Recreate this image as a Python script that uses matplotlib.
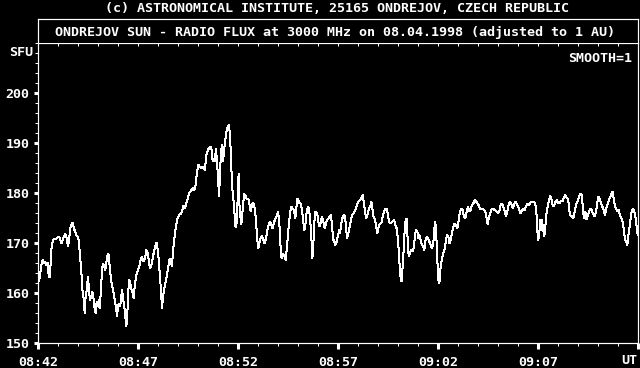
import matplotlib
matplotlib.use("Agg")
import matplotlib.pyplot as plt
from matplotlib.ticker import MultipleLocator, FixedLocator

# seconds after 08:42 UT, flux in SFU
seconds = [
    0, 3, 6, 9, 14, 18, 21, 25, 29, 32, 35, 37, 39, 42, 46, 50, 54, 58, 62, 66,
    70, 74, 78, 82, 86, 90, 93, 97, 101, 104, 107, 111, 115, 119, 122, 125, 128, 131, 134, 138,
    140, 142, 146, 150, 153, 156, 160, 163, 166, 169, 173, 176, 179, 182, 185, 189, 192, 195, 199, 202,
    206, 210, 213, 215, 219, 223, 227, 230, 234, 237, 240, 243, 246, 249, 252, 256, 260, 263, 265, 268,
    271, 274, 277, 280, 284, 287, 290, 294, 298, 302, 305, 308, 312, 316, 321, 325, 329, 333, 336, 340,
    344, 348, 352, 356, 360, 364, 367, 370, 372, 375, 379, 383, 387, 391, 395, 399, 402, 405, 409, 413,
    417, 421, 425, 429, 433, 437, 441, 445, 449, 453, 457, 461, 465, 469, 472, 475, 478, 481, 485, 489,
    493, 497, 500, 503, 506, 510, 514, 518, 521, 524, 527, 530, 534, 537, 540, 543, 546, 549, 552, 555,
    558, 561, 564, 567, 570, 573, 576, 579, 582, 585, 588, 591, 593, 597, 600, 602, 604, 607, 610, 613,
    616, 619, 623, 627, 631, 635, 638, 641, 645, 649, 652, 655, 658, 661, 664, 668, 672, 676, 680, 684,
    688, 692, 696, 700, 704, 708, 712, 716, 720, 723, 726, 728, 731, 735, 739, 743, 746, 749, 752, 756,
    760, 764, 768, 772, 775, 778, 781, 784, 787, 790, 793, 796, 799, 802, 805, 808, 811, 814, 817, 820,
    823, 825, 828, 831, 835, 839, 842, 845, 849, 852, 856, 860, 863, 867, 871, 875, 879, 882, 885, 888,
    892, 896, 900, 904, 906, 909, 913, 917, 921, 924, 927, 930, 934, 938, 942, 946, 950, 954, 958, 962,
    966, 970, 974, 978, 982, 985, 989, 993, 997, 1000, 1003, 1006, 1010, 1014, 1018, 1022, 1026, 1030, 1034, 1038,
    1042, 1046, 1049, 1052, 1056, 1060, 1064, 1068, 1072, 1076, 1079, 1082, 1085, 1088, 1091, 1094, 1097, 1100, 1103, 1106,
    1109, 1112, 1115, 1119, 1123, 1127, 1131, 1134, 1138, 1141, 1144, 1148, 1152, 1156, 1159, 1162, 1166, 1170, 1174, 1178,
    1182, 1186, 1189, 1192, 1195, 1198, 1201, 1204, 1208, 1212, 1216, 1220, 1224, 1227, 1231, 1234, 1238, 1242, 1246, 1250,
    1254, 1258, 1262, 1266, 1270, 1274, 1278, 1282, 1286, 1290, 1294, 1298, 1302, 1306, 1310, 1314, 1318, 1322, 1326, 1330,
    1334, 1338, 1342, 1346, 1349, 1352, 1356, 1360, 1364, 1368, 1372, 1376, 1380, 1384, 1388, 1392, 1396, 1400, 1404, 1408,
    1412, 1416, 1420, 1424, 1428, 1432, 1436, 1440, 1444, 1448, 1452, 1456, 1460, 1464, 1468, 1472, 1476, 1480, 1484, 1488,
    1492, 1496, 1498, 1501, 1504, 1506, 1509, 1512, 1515, 1519, 1522, 1525, 1529, 1533, 1537, 1541, 1545, 1549, 1553, 1557,
    1561, 1565, 1569, 1573, 1577, 1581, 1585, 1589, 1592, 1595, 1598, 1602, 1606, 1610, 1614, 1618, 1622, 1626, 1630, 1633,
    1636, 1639, 1642, 1645, 1649, 1653, 1657, 1661, 1665, 1669, 1673, 1677, 1681, 1685, 1689, 1693, 1697, 1701, 1705, 1709,
    1713, 1717, 1721, 1724, 1727, 1730, 1734, 1738, 1742, 1746, 1750, 1754, 1758, 1761, 1764, 1768, 1772, 1776, 1780, 1784,
    1788, 1792, 1796, 1799,
]
flux = [
    162.0, 162.6, 163.3, 165.3, 166.6, 166.0, 166.3, 165.6, 166.0, 163.6, 163.1, 164.6, 167.9, 169.9, 170.6, 170.9, 170.8, 171.1, 171.3, 170.9,
    169.9, 170.6, 171.3, 171.9, 170.9, 169.4, 170.6, 173.0, 173.8, 174.0, 173.1, 172.3, 171.6, 171.3, 170.6, 168.3, 166.0, 163.3, 159.9, 158.6,
    155.9, 158.6, 160.6, 163.3, 160.6, 158.6, 159.3, 160.3, 159.3, 157.3, 155.9, 158.3, 157.3, 158.6, 156.9, 160.6, 164.6, 165.9, 165.3, 164.6,
    166.6, 167.9, 167.3, 165.3, 162.6, 161.3, 159.9, 158.6, 157.3, 155.3, 157.3, 157.9, 157.3, 158.6, 160.6, 158.6, 156.6, 154.6, 153.3, 155.9,
    160.6, 162.6, 161.9, 160.9, 159.9, 158.9, 161.3, 163.3, 164.3, 164.9, 165.6, 166.6, 167.3, 166.3, 166.9, 168.6, 167.9, 166.3, 164.9, 165.6,
    166.9, 168.3, 169.3, 170.1, 168.3, 164.9, 162.3, 159.3, 156.9, 159.3, 160.9, 162.3, 163.6, 165.3, 166.9, 166.3, 165.3, 168.3, 170.9, 172.9,
    174.6, 175.3, 175.7, 175.9, 176.6, 177.5, 176.9, 177.9, 178.9, 179.9, 180.3, 180.6, 181.1, 180.6, 181.3, 182.9, 184.6, 185.7, 185.3, 184.9,
    185.3, 184.9, 184.6, 186.3, 187.9, 188.6, 189.1, 189.3, 188.6, 186.3, 186.9, 186.3, 188.9, 186.3, 183.3, 179.3, 183.6, 188.3, 189.6, 186.3,
    188.3, 190.3, 191.6, 192.9, 193.3, 193.6, 191.6, 186.9, 181.6, 179.3, 177.6, 174.3, 173.1, 174.3, 181.9, 183.8, 177.9, 175.3, 173.8, 175.9,
    178.3, 179.8, 179.4, 178.7, 178.9, 177.6, 176.3, 177.3, 178.1, 177.3, 175.9, 173.3, 170.6, 168.9, 169.9, 171.1, 171.4, 170.7, 169.9, 170.9,
    172.6, 173.6, 174.3, 173.6, 172.9, 174.1, 174.9, 175.3, 176.3, 174.6, 171.9, 168.6, 166.9, 167.9, 167.4, 166.6, 168.6, 170.9, 173.3, 175.9,
    177.3, 176.9, 176.6, 174.9, 176.9, 178.9, 178.6, 177.9, 178.1, 177.3, 175.9, 174.3, 172.6, 173.6, 175.6, 176.9, 177.3, 176.3, 174.3, 171.3,
    166.9, 168.3, 172.6, 176.3, 176.3, 175.3, 173.9, 173.3, 174.3, 175.3, 174.3, 172.9, 173.6, 174.6, 174.9, 175.3, 175.6, 173.6, 170.9, 170.3,
    169.6, 170.3, 171.6, 172.6, 171.9, 173.6, 174.9, 175.6, 175.3, 173.3, 170.9, 171.6, 172.9, 174.3, 175.6, 175.9, 176.3, 176.9, 177.9, 178.3,
    178.6, 178.9, 179.6, 177.9, 175.9, 174.9, 175.9, 176.9, 177.3, 178.3, 176.9, 175.3, 174.9, 173.6, 171.9, 173.3, 173.9, 173.9, 175.3, 176.3,
    176.9, 176.9, 175.9, 174.6, 173.9, 174.1, 174.3, 174.6, 173.6, 172.9, 171.3, 168.6, 165.3, 162.9, 162.3, 165.3, 168.6, 172.6, 174.6, 174.9,
    170.6, 167.3, 167.9, 168.6, 168.3, 168.9, 171.6, 172.6, 172.3, 170.9, 171.6, 170.6, 169.6, 169.3, 168.6, 170.3, 171.3, 170.9, 170.3, 169.6,
    168.9, 169.9, 172.9, 174.3, 171.3, 166.6, 162.6, 161.9, 165.3, 166.9, 167.9, 168.9, 170.6, 171.6, 171.3, 169.9, 170.6, 171.9, 173.3, 173.9,
    173.6, 172.9, 174.6, 176.3, 176.9, 176.6, 175.3, 174.9, 176.3, 177.3, 176.3, 176.6, 177.6, 177.9, 178.6, 178.4, 177.9, 177.6, 176.9, 176.7,
    176.9, 176.6, 176.3, 174.9, 173.8, 174.9, 175.9, 176.6, 176.9, 176.7, 176.6, 176.3, 175.9, 176.3, 177.6, 177.9, 177.3, 176.3, 175.3, 176.3,
    177.6, 178.3, 177.9, 176.9, 177.6, 178.3, 177.9, 177.3, 176.6, 175.9, 176.6, 176.9, 176.6, 177.3, 177.9, 177.6, 177.9, 178.3, 178.1, 178.3,
    177.9, 175.3, 172.3, 170.6, 171.9, 174.6, 172.6, 174.6, 172.9, 171.3, 173.3, 175.6, 177.3, 178.6, 179.4, 178.6, 177.3, 177.6, 178.3, 178.6,
    177.9, 177.9, 178.5, 178.3, 178.9, 179.6, 179.1, 178.9, 177.9, 175.9, 175.4, 175.3, 174.9, 176.3, 177.6, 178.3, 178.9, 179.8, 179.9, 178.3,
    175.9, 174.9, 176.3, 174.7, 175.3, 176.3, 176.9, 176.6, 175.9, 175.3, 175.9, 177.6, 179.3, 178.9, 177.9, 177.3, 176.6, 175.6, 176.9, 177.9,
    178.6, 179.3, 179.9, 180.3, 178.9, 177.6, 176.9, 176.3, 176.6, 175.6, 174.9, 174.3, 172.3, 170.6, 170.3, 169.6, 171.9, 173.9, 175.9, 176.9,
    176.6, 175.3, 173.3, 171.6,
]

x_labels = ['08:42', '08:47', '08:52', '08:57', '09:02', '09:07']
y_major = [150, 160, 170, 180, 190, 200]

top_line = '(c) ASTRONOMICAL INSTITUTE, 25165 ONDREJOV, CZECH REPUBLIC'
title = 'ONDREJOV SUN - RADIO FLUX at 3000 MHz on 08.04.1998 (adjusted to 1 AU)'

W, H = 640, 368
font = dict(family='DejaVu Sans Mono', weight='bold', size=9.6, color='white')
px1 = 72 / 100  # one pixel in points


def fx(px):
    return px / W


def fy(py):
    return 1 - py / H


fig = plt.figure(figsize=(W / 100, H / 100), dpi=100, facecolor='black')

# main plot area
ax = fig.add_axes([fx(38), fy(343), 600 / W, 300 / H], facecolor='black')
minutes = [s / 60 for s in seconds]
ax.plot(minutes, flux, color='white', lw=px1, antialiased=False)
ax.set_xlim(0, 30)
ax.set_ylim(150, 210)

for side in ['left', 'bottom', 'right', 'top']:
    ax.spines[side].set_color('white')
    ax.spines[side].set_linewidth(px1 * 1.2)

ax.xaxis.set_major_locator(FixedLocator([0, 5, 10, 15, 20, 25, 30]))
ax.xaxis.set_minor_locator(MultipleLocator(1))
ax.set_xticklabels(x_labels + [''])
ax.yaxis.set_major_locator(FixedLocator(y_major))
ax.yaxis.set_minor_locator(MultipleLocator(2))
ax.set_yticklabels([str(v) for v in y_major])

ax.tick_params(axis='x', which='major', direction='out', length=4, width=2.2,
               color='white', pad=5, labelcolor='white')
ax.tick_params(axis='x', which='minor', direction='out', length=2, width=px1,
               color='white')
ax.tick_params(axis='y', which='major', direction='out', length=3, width=2.2,
               color='white', pad=3, labelcolor='white')
ax.tick_params(axis='y', which='minor', direction='out', length=2, width=px1,
               color='white')
for lab in ax.get_xticklabels() + ax.get_yticklabels():
    lab.set_fontfamily(font['family'])
    lab.set_fontweight('bold')
    lab.set_fontsize(font['size'])

# inward minute ticks along the top edge
top = ax.secondary_xaxis('top')
top.xaxis.set_major_locator(MultipleLocator(1))
top.tick_params(direction='in', length=2, width=px1, color='white',
                labeltop=False)
top.spines['top'].set_visible(False)

ax.text(0.99, 0.95, 'SMOOTH=1', ha='right', va='center',
        transform=ax.transAxes, **font)

# title box
tax = fig.add_axes([fx(38), fy(43), 600 / W, 24 / H], facecolor='black')
tax.set_xticks([])
tax.set_yticks([])
for side in ['left', 'right', 'top']:
    tax.spines[side].set_color('white')
    tax.spines[side].set_linewidth(px1 * 1.2)
tax.spines['bottom'].set_visible(False)
tax.text(0.495, 0.45, title, ha='center', va='center', transform=tax.transAxes, **font)

fig.text(fx(337), fy(8), top_line, ha='center', va='center', **font)
fig.text(fx(33), fy(53), 'SFU', ha='right', va='center', **font)
fig.text(fx(637), fy(360), 'UT', ha='right', va='center', **font)

fig.savefig('out.png', dpi=100, facecolor='black')
